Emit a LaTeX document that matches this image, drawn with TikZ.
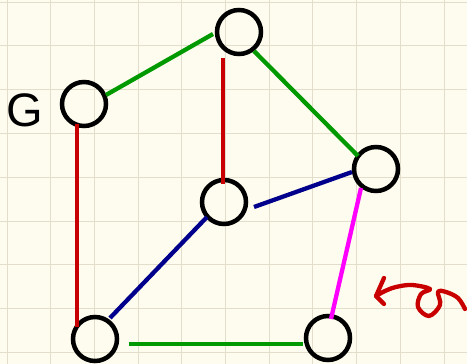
\documentclass[tikz,border=0pt]{standalone}
\usepackage{fontspec}
\setmainfont{Liberation Sans}
\begin{document}
\begin{tikzpicture}[x=1pt,y=-1pt,
  vtx/.style={circle,draw=black,line width=4.5pt,minimum size=44pt,inner sep=0pt,fill=none},
  edge/.style={line width=4.3pt},
  gridline/.style={draw=gridc,line width=0.9pt}]
\definecolor{bgc}{HTML}{FEFCEE}
\definecolor{gridc}{HTML}{E2DECB}
\definecolor{eg}{HTML}{009A00}
\definecolor{er}{HTML}{C80000}
\definecolor{eb}{HTML}{00008C}
\definecolor{em}{HTML}{FF00FF}
\fill[bgc] (0,0) rectangle (467,364);
\useasboundingbox (0,0) rectangle (467,364);
\foreach \i in {0,...,10} {
  \draw[gridline] ({7+43.7*\i},0) -- ({7+43.7*\i},364);
}
\foreach \j in {0,...,8} {
  \draw[gridline] (0,{2+43.8*\j}) -- (467,{2+43.8*\j});
}
% vertices
\node[vtx] (t) at (239,32) {};
\node[vtx] (g) at (84,104) {};
\node[vtx] (r) at (376,169) {};
\node[vtx] (m) at (224,202) {};
\node[vtx] (bl) at (95,339) {};
\node[vtx] (br) at (328,338) {};
\node[font=\fontsize{47}{47}\selectfont] (lab) at (25,110) {G};
% edge endpoints
\coordinate (e1a) at (106,95);  \coordinate (e1b) at (213,34);
\coordinate (e2a) at (254,51);  \coordinate (e2b) at (358,156);
\coordinate (e3a) at (223,58);  \coordinate (e3b) at (223,184);
\coordinate (e4a) at (77,124);  \coordinate (e4b) at (77,327);
\coordinate (e5a) at (254,207); \coordinate (e5b) at (352,172);
\coordinate (e6a) at (110,318); \coordinate (e6b) at (207,217);
\coordinate (e7a) at (361,188); \coordinate (e7b) at (331,319);
\coordinate (e8a) at (129,344); \coordinate (e8b) at (303,344);
\draw[edge,eg] (e1a) -- (e1b);
\draw[edge,eg] (e2a) -- (e2b);
\draw[edge,er] (e3a) -- (e3b);
\draw[edge,er] (e4a) -- (e4b);
\draw[edge,eb] (e5a) -- (e5b);
\draw[edge,eb] (e6a) -- (e6b);
\draw[edge,em] (e7a) -- (e7b);
\draw[edge,eg] (e8a) -- (e8b);
% red rotation arrow
\draw[er,line width=4.3pt,line cap=round,line join=round]
  plot[smooth,tension=0.6] coordinates {(465,309) (458,298) (446,292) (438,292) (440,305) (429,316) (418,307) (421,294) (430,289) (412,285) (396,287) (385,291) (376,296)};
\draw[er,line width=4.3pt,line cap=round,line join=round] (384,278) -- (376,296) -- (384,304);
\end{tikzpicture}
\end{document}
